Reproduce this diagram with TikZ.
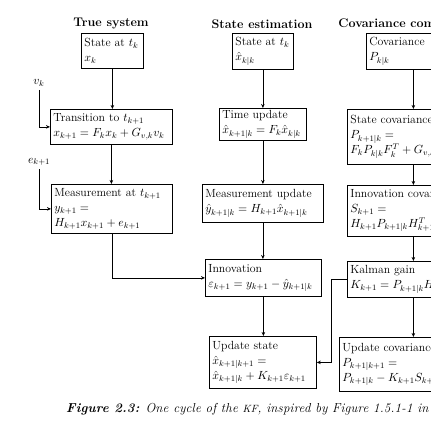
\RequirePackage{fix-cm}
\documentclass[tikz,border=0pt]{standalone}
\usepackage{fontspec}
\setmainfont{Latin Modern Roman}
\usetikzlibrary{arrows.meta}
\newcommand\li[1]{\mbox{#1}}
\begin{document}
\begin{tikzpicture}[x=1pt,y=-1pt,
  font=\fontsize{11.8}{15}\selectfont,
  box/.style={draw,line width=0.8pt,rectangle,anchor=north west,inner xsep=3pt,inner ysep=0.5pt,align=left},
  arr/.style={line width=0.8pt,-{Stealth[length=4pt,width=3.5pt]}},
  title/.style={font=\fontsize{12.5}{15}\selectfont\bfseries}]
\useasboundingbox (0,0) rectangle (431,431);
\clip (0,0) rectangle (431,431);
\fill[white] (0,0) rectangle (431,431);
% titles
\node[title] (h1) at (111,24) {True system};
\node[title] (h2) at (262,24) {State estimation};
\node[title] (h3) at (413,24) {Covariance computation};
% row 1
\node[box,minimum width=62pt,minimum height=35pt,text width=56pt] (S1) at (81,33) {\li{State at $t_k$}\\ $x_k$};
\node[box,minimum width=61pt,minimum height=36pt,text width=55pt] (S2) at (232,33) {\li{State at $t_k$}\\ $\hat{x}_{k|k}$};
\node[box,minimum width=94pt,minimum height=36pt,text width=88pt] (S3) at (366,33) {\li{Covariance}\\ $P_{k|k}$};
% row 2
\node[box,minimum width=122pt,minimum height=35pt,text width=116pt] (T1) at (50,109) {\li{Transition to $t_{k+1}$}\\ \li{$x_{k+1} = F_k x_k + G_{v,k} v_k$}};
\node[box,minimum width=87pt,minimum height=32pt,text width=81pt] (T2) at (219,108) {\li{Time update}\\ \li{$\hat{x}_{k+1|k} = F_k \hat{x}_{k|k}$}};
\node[box,minimum width=132pt,minimum height=55pt,text width=126pt] (T3) at (347,109) {\li{State covariance}\\ \li{$P_{k+1|k} =$}\\ \li{$F_k P_{k|k} F_k^T + G_{v,k}$}};
% row 3
\node[box,minimum width=121pt,minimum height=49pt,text width=115pt] (M1) at (51,184) {\li{Measurement at $t_{k+1}$}\\ \li{$y_{k+1} =$}\\ \li{$H_{k+1} x_{k+1} + e_{k+1}$}};
\node[box,minimum width=121pt,minimum height=38pt,text width=115pt] (M2) at (202,184) {\li{Measurement update}\\ \li{$\hat{y}_{k+1|k} = H_{k+1} \hat{x}_{k+1|k}$}};
\node[box,minimum width=132pt,minimum height=51pt,text width=126pt] (M3) at (347,185) {\li{Innovation covariance}\\ \li{$S_{k+1} =$}\\ \li{$H_{k+1} P_{k+1|k} H_{k+1}^T$}};
% row 4
\node[box,minimum width=116pt,minimum height=37pt,text width=110pt] (I1) at (205,259) {\li{Innovation}\\ \li{$\varepsilon_{k+1} = y_{k+1} - \hat{y}_{k+1|k}$}};
\node[box,minimum width=132pt,minimum height=36pt,text width=126pt] (K) at (347,261) {\li{Kalman gain}\\ \li{$K_{k+1} = P_{k+1|k} H_{k+1}^T$}};
% row 5
\node[box,minimum width=107pt,minimum height=52pt,text width=101pt] (U1) at (209,336) {\li{Update state}\\ \li{$\hat{x}_{k+1|k+1} =$}\\ \li{$\hat{x}_{k+1|k} + K_{k+1}\varepsilon_{k+1}$}};
\node[box,minimum width=148pt,minimum height=54pt,text width=142pt] (U2) at (339,337) {\li{Update covariance}\\ \li{$P_{k+1|k+1} =$}\\ \li{$P_{k+1|k} - K_{k+1} S_{k+1}$}};
% inputs
\node (vk) at (39,83) {$v_k$};
\node (ek) at (39,162) {$e_{k+1}$};
% connectors
\draw[arr] (S1.south) -- (S1.south |- T1.north);
\draw[arr] (T1.south) -- (T1.south |- M1.north);
\draw[arr] (M1.south) |- (I1.west);
\draw[arr] (S2.south) -- (S2.south |- T2.north);
\draw[arr] (T2.south) -- (T2.south |- M2.north);
\draw[arr] (M2.south) -- (M2.south |- I1.north);
\draw[arr] (I1.south) -- (I1.south |- U1.north);
\draw[arr] (S3.south) -- (S3.south |- T3.north);
\draw[arr] (T3.south) -- (T3.south |- M3.north);
\draw[arr] (M3.south) -- (M3.south |- K.north);
\draw[arr] (K.south) -- (K.south |- U2.north);
\draw[arr] (K.west) -- ++(-16,0) |- (U1.east);
\draw[arr] (vk.south) |- (T1.west);
\draw[arr] (ek.south) |- (M1.west);
% caption
\node[anchor=west,inner sep=0pt,font=\fontsize{13}{16}\selectfont\addfontfeatures{LetterSpace=1.3}] (cap) at (66,409) {\textbf{\textit{Figure 2.3:}} \textit{One cycle of the {\fontsize{10.5}{13}\selectfont KF}, inspired by Figure 1.5.1-1 in [1]}};
\end{tikzpicture}
\end{document}
